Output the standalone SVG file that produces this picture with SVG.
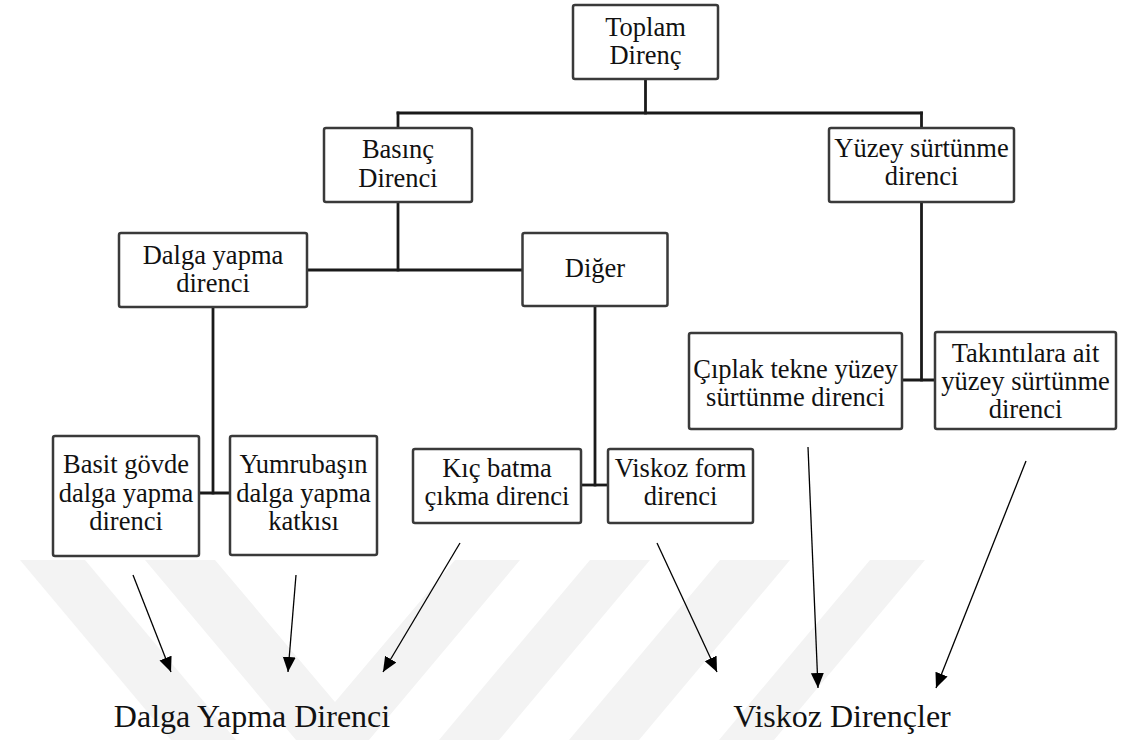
<svg xmlns="http://www.w3.org/2000/svg" width="1134" height="740" viewBox="0 0 1134 740">
<style>
.box{fill:#ffffff;stroke:#3a3a3a;stroke-width:2.5}
.t{font-size:26.5px;fill:#111;text-anchor:middle}
.big{font-size:32px;fill:#111;text-anchor:middle}
.con{stroke:#1a1a1a;stroke-width:2.8;fill:none;stroke-linecap:square}
.arr{stroke:#000;stroke-width:1.3;fill:none;marker-end:url(#ah)}
.wm{fill:#f3f3f3}
</style>
<defs>
<marker id="ah" markerUnits="userSpaceOnUse" markerWidth="16" markerHeight="14" refX="15" refY="6.5" orient="auto">
<path d="M0,0 L15,6.5 L0,13 Z" fill="#000"/>
</marker>
</defs>
<rect width="1134" height="740" fill="#ffffff"/>
<g id="watermark">
<polygon class="wm" points="20,560 85,560 236,740 171,740"/>
<polygon class="wm" points="145,560 215,560 335,702 455,560 520,560 369,740 296,740"/>
<polygon class="wm" points="590,560 650,560 499,740 439,740"/>
<polygon class="wm" points="720,560 790,560 639,740 569,740"/>
<polygon class="wm" points="870,560 925,560 774,740 719,740"/>
</g>
<g id="connectors">
<line class="con" x1="645.5" y1="79" x2="645.5" y2="113"/>
<line class="con" x1="398" y1="113" x2="921.5" y2="113"/>
<line class="con" x1="398" y1="113" x2="398" y2="128"/>
<line class="con" x1="921.5" y1="113" x2="921.5" y2="128"/>
<line class="con" x1="398" y1="202" x2="398" y2="270"/>
<line class="con" x1="307" y1="270" x2="522.5" y2="270"/>
<line class="con" x1="213" y1="307" x2="213" y2="493"/>
<line class="con" x1="199" y1="493" x2="230" y2="493"/>
<line class="con" x1="595" y1="306" x2="595" y2="485"/>
<line class="con" x1="581" y1="485" x2="608" y2="485"/>
<line class="con" x1="921.5" y1="202" x2="921.5" y2="380"/>
<line class="con" x1="902" y1="380" x2="935" y2="380"/>
<line class="arr" x1="133" y1="575" x2="171" y2="672"/>
<line class="arr" x1="296" y1="575" x2="288" y2="672"/>
<line class="arr" x1="460" y1="543" x2="383" y2="672"/>
<line class="arr" x1="657" y1="543" x2="717" y2="672"/>
<line class="arr" x1="808" y1="447" x2="818" y2="688"/>
<line class="arr" x1="1026" y1="461" x2="936" y2="688"/>
</g>
<g font-family="Liberation Serif, Times New Roman, DejaVu Serif, serif">
<g id="toplam">
<rect class="box" x="573" y="5" width="145" height="74" rx="2"/>
<text class="t" x="645.5" y="36">Toplam</text>
<text class="t" x="645.5" y="64">Direnç</text>
</g>
<g id="basinc">
<rect class="box" x="324" y="128" width="148" height="74" rx="2"/>
<text class="t" x="398" y="158">Basınç</text>
<text class="t" x="398" y="186.5">Direnci</text>
</g>
<g id="yuzey">
<rect class="box" x="829" y="128" width="185" height="74" rx="2"/>
<text class="t" x="921.5" y="157">Yüzey sürtünme</text>
<text class="t" x="921.5" y="185">direnci</text>
</g>
<g id="dalga">
<rect class="box" x="119" y="233" width="188" height="74" rx="2"/>
<text class="t" x="213" y="263.5">Dalga yapma</text>
<text class="t" x="213" y="291.5">direnci</text>
</g>
<g id="diger">
<rect class="box" x="522.5" y="233" width="145" height="73" rx="2"/>
<text class="t" x="595" y="277">Diğer</text>
</g>
<g id="basit">
<rect class="box" x="53" y="436" width="146" height="120" rx="2"/>
<text class="t" x="126" y="473">Basit gövde</text>
<text class="t" x="126" y="501.5">dalga yapma</text>
<text class="t" x="126" y="530">direnci</text>
</g>
<g id="yumrubasin">
<rect class="box" x="230" y="436" width="147" height="119" rx="2"/>
<text class="t" x="303.5" y="473">Yumrubaşın</text>
<text class="t" x="303.5" y="501.5">dalga yapma</text>
<text class="t" x="303.5" y="530">katkısı</text>
</g>
<g id="kic">
<rect class="box" x="413" y="449" width="168" height="74" rx="2"/>
<text class="t" x="497" y="476.5">Kıç batma</text>
<text class="t" x="497" y="504.5">çıkma direnci</text>
</g>
<g id="viskozform">
<rect class="box" x="608" y="449" width="145" height="74" rx="2"/>
<text class="t" x="680.5" y="476.5">Viskoz form</text>
<text class="t" x="680.5" y="504.5">direnci</text>
</g>
<g id="ciplak">
<rect class="box" x="689" y="333" width="213" height="96" rx="2"/>
<text class="t" x="795.5" y="378">Çıplak tekne yüzey</text>
<text class="t" x="795.5" y="406">sürtünme direnci</text>
</g>
<g id="takinti">
<rect class="box" x="935" y="332" width="181" height="97" rx="2"/>
<text class="t" x="1025.5" y="362">Takıntılara ait</text>
<text class="t" x="1025.5" y="390">yüzey sürtünme</text>
<text class="t" x="1025.5" y="418">direnci</text>
</g>
<g id="labels">
<text class="big" x="252" y="727">Dalga Yapma Direnci</text>
<text class="big" x="842" y="727">Viskoz Dirençler</text>
</g>
</g>
</svg>
